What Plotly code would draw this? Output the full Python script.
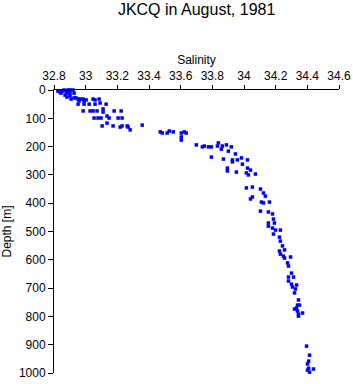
import plotly.graph_objects as go

salinity = [32.825, 32.838, 32.851, 32.844, 32.863, 32.876, 32.889, 32.901, 32.920, 32.882,
            32.901, 32.927, 32.870, 32.882, 32.901, 32.908, 32.927, 32.939, 32.952, 32.965,
            32.984, 33.003, 32.958, 32.990, 33.047, 33.059, 33.085, 32.952, 32.990, 33.022,
            33.059, 33.091, 33.129, 32.984, 33.028, 33.047, 33.072, 33.110, 33.110, 33.180,
            33.224, 33.053, 33.078, 33.097, 33.135, 33.148, 33.205, 33.230, 33.104, 33.135,
            33.173, 33.218, 33.230, 33.262, 33.268, 33.281, 33.357, 33.471, 33.484, 33.515,
            33.528, 33.553, 33.604, 33.623, 33.635, 33.604, 33.604, 33.699, 33.737, 33.749,
            33.775, 33.794, 33.832, 33.838, 33.857, 33.863, 33.889, 33.920, 33.901, 33.946,
            33.794, 33.870, 33.927, 33.927, 33.958, 33.984, 34.022, 33.990, 33.895, 33.895,
            33.952, 34.022, 34.041, 34.015, 34.028, 34.072, 34.015, 34.053, 34.104, 34.123,
            34.135, 34.053, 34.041, 34.110, 34.123, 34.161, 34.104, 34.154, 34.180, 34.186,
            34.192, 34.154, 34.154, 34.180, 34.199, 34.230, 34.186, 34.224, 34.230, 34.243,
            34.256, 34.224, 34.230, 34.249, 34.256, 34.294, 34.275, 34.281, 34.300, 34.281,
            34.313, 34.281, 34.300, 34.306, 34.332, 34.325, 34.319, 34.344, 34.338, 34.351,
            34.332, 34.319, 34.338, 34.344, 34.344, 34.370, 34.395, 34.414, 34.408, 34.401,
            34.408, 34.401, 34.414, 34.439]

depth = [4, 7, 4, 11, 0, 4, 0, 0, 0, 11,
         11, 11, 18, 25, 21, 32, 28, 28, 32, 32,
         32, 35, 39, 39, 32, 35, 32, 50, 50, 50,
         50, 46, 50, 74, 74, 74, 74, 67, 78, 74,
         74, 99, 99, 99, 92, 99, 99, 99, 127, 117,
         127, 131, 127, 127, 131, 141, 124, 148, 152, 152,
         145, 148, 152, 148, 152, 166, 177, 194, 201, 198,
         201, 201, 198, 187, 209, 198, 194, 201, 216, 226,
         237, 244, 247, 254, 247, 240, 247, 262, 276, 286,
         290, 276, 283, 293, 300, 297, 346, 343, 350, 364,
         375, 378, 385, 396, 399, 396, 428, 431, 438, 456,
         470, 470, 481, 488, 495, 495, 509, 520, 534, 551,
         565, 569, 580, 587, 594, 590, 611, 622, 647, 661,
         661, 675, 686, 696, 689, 703, 717, 742, 760, 760,
         770, 774, 781, 792, 799, 788, 905, 937, 958, 968,
         983, 990, 997, 986]

x_ticks = [32.8, 33.0, 33.2, 33.4, 33.6, 33.8, 34.0, 34.2, 34.4, 34.6]
x_tick_labels = ["32.8", "33", "33.2", "33.4", "33.6", "33.8", "34", "34.2", "34.4", "34.6"]
y_ticks = [0, 100, 200, 300, 400, 500, 600, 700, 800, 900, 1000]

font = "Liberation Sans, Arial, sans-serif"

fig = go.Figure()
fig.add_trace(go.Scatter(
    x=salinity, y=depth, mode="markers",
    marker=dict(symbol="square", size=3.5, color="#0000ff", line=dict(width=0)),
    cliponaxis=False, showlegend=False,
))

fig.update_layout(
    width=353, height=384,
    margin=dict(l=54, r=14, t=90, b=11),
    paper_bgcolor="white", plot_bgcolor="white",
    font=dict(family=font, size=12, color="black"),
    title=dict(text="JKCQ in August, 1981", x=0.557, xanchor="center",
               y=0.975, yanchor="middle", yref="container",
               font=dict(family=font, size=16, color="black")),
    xaxis=dict(
        side="top", range=[32.8, 34.6], tickvals=x_ticks, ticktext=x_tick_labels,
        automargin=False,
        showgrid=False, zeroline=False, showline=True, linecolor="black", linewidth=1,
        ticks="outside", ticklen=4, tickcolor="black",
        title=dict(text="Salinity", standoff=2, font=dict(size=12)),
        tickfont=dict(size=12),
    ),
    yaxis=dict(
        range=[1000, 0], tickvals=y_ticks, automargin=False,
        showgrid=False, zeroline=False, showline=True, linecolor="black", linewidth=1,
        ticks="outside", ticklen=5, tickcolor="black",
        title=dict(text="Depth [m]", standoff=4, font=dict(size=12)),
        tickfont=dict(size=12),
    ),
)

fig.write_html("out.html")
